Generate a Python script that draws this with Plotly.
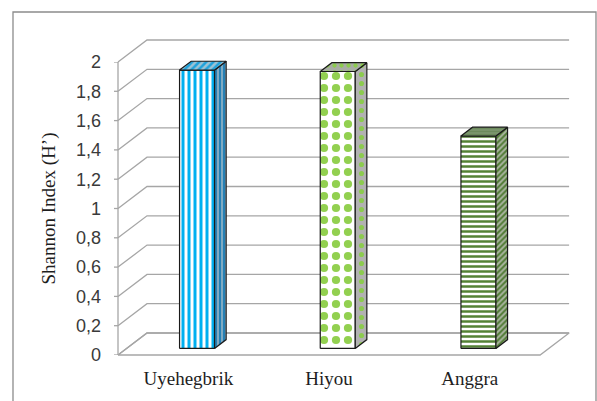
import plotly.graph_objects as go

# ---- data -------------------------------------------------------------
sites = ["Uyehegbrik", "Hiyou", "Anggra"]
shannon = [1.90, 1.89, 1.45]
y_ticks = [0, 0.2, 0.4, 0.6, 0.8, 1.0, 1.2, 1.4, 1.6, 1.8, 2.0]

# ---- page / projection geometry (pixels) ------------------------------
W, H = 597, 401
PLOT_L, PLOT_R, PLOT_T, PLOT_B = 114, 574, 34, 359
FRONT_X0, FRONT_Y0 = 118, 355          # pixel of (x=-0.5, y=0) on the front plane
CAT_PX = 140.7                          # pixels per category
UNIT_PX = 146.5                         # pixels per index unit
DEPTH_PX = (29, 22)                     # oblique offset of the back wall

DX = DEPTH_PX[0] / CAT_PX
DY = DEPTH_PX[1] / UNIT_PX
F1, F2 = 0.30, 0.70                     # front / back depth of the bars
BAR_W = 35 / CAT_PX

x_range = [-0.5 - (FRONT_X0 - PLOT_L) / CAT_PX, -0.5 + (PLOT_R - FRONT_X0) / CAT_PX]
y_range = [-(PLOT_B - FRONT_Y0) / UNIT_PX, (FRONT_Y0 - PLOT_T) / UNIT_PX]
plot_h = PLOT_B - PLOT_T
plot_w = PLOT_R - PLOT_L
front_dom = [(PLOT_B - FRONT_Y0) / plot_h,
             (PLOT_B - (FRONT_Y0 - max(y_ticks) * UNIT_PX)) / plot_h]

GRID = "#A6A6A6"
EDGE = "#1A1A1A"

styles = {
    "Uyehegbrik": {
        "front": dict(shape="|", bgcolor="white", fgcolor="#00B0F0", size=6, solidity=0.5),
        "side": dict(shape="|", bgcolor="#7FAAC2", fgcolor="#2580B5", size=4, solidity=0.5),
        "top": dict(shape="/", bgcolor="#9CC3D5", fgcolor="#1FA2DB", size=5, solidity=0.5),
    },
    "Hiyou": {
        "front": dict(shape=".", bgcolor="white", fgcolor="#92D050", size=12, solidity=0.37),
        "side": dict(shape=".", bgcolor="#B2B2B2", fgcolor="#8CCB4E", size=9, solidity=0.25),
        "top": dict(shape=".", bgcolor="#A8ADA4", fgcolor="#8CCB4E", size=7, solidity=0.3),
    },
    "Anggra": {
        "front": dict(shape="-", bgcolor="white", fgcolor="#548235", size=5, solidity=0.5),
        "side": dict(shape="/", bgcolor="#AAB5A0", fgcolor="#4F7A33", size=4, solidity=0.5),
        "top": dict(shape="-", bgcolor="#7D9770", fgcolor="#6C8A5C", size=3, solidity=0.5),
    },
}

fig = go.Figure()


def line_trace(xs, ys, color=GRID, width=1.3, yaxis="y"):
    return go.Scatter(x=xs, y=ys, mode="lines", yaxis=yaxis,
                      line=dict(color=color, width=width),
                      hoverinfo="skip", showlegend=False)


# side-wall diagonals and back-wall gridlines
gx, gy = [], []
x_left, x_right = -0.5, len(sites) - 0.5
for v in y_ticks:
    gx += [x_left, x_left + DX, x_right + DX, None]
    gy += [v, v + DY, v + DY, None]
fig.add_trace(line_trace(gx, gy))

# floor outline
fig.add_trace(line_trace([x_left, x_right, x_right + DX, x_left + DX, x_left],
                         [0, 0, DY, DY, 0]))

# bars: front face, right side, top
for i, (name, v) in enumerate(zip(sites, shannon)):
    xl = i + F1 * DX - BAR_W / 2
    xr = xl + BAR_W
    y0 = F1 * DY
    bx = (F2 - F1) * DX
    by = (F2 - F1) * DY
    faces = {
        "front": ([xl, xr, xr, xl, xl], [y0, y0, v + y0, v + y0, y0]),
        "side": ([xr, xr + bx, xr + bx, xr, xr],
                 [y0, y0 + by, v + y0 + by, v + y0, y0]),
        "top": ([xl, xr, xr + bx, xl + bx, xl],
                [v + y0, v + y0, v + y0 + by, v + y0 + by, v + y0]),
    }
    for face, (fx, fy) in faces.items():
        pat = dict(styles[name][face], fillmode="replace")
        fig.add_trace(go.Scatter(
            x=fx, y=fy, mode="lines", fill="toself",
            fillcolor=pat["bgcolor"], fillpattern=pat,
            line=dict(color=EDGE, width=1.2),
            name=name, hoverinfo="skip", showlegend=False))

# front value axis with outward ticks (on the front-plane axis)
tick_len = 5 / CAT_PX
ax_x, ax_y = [x_left, x_left, None], [0, max(y_ticks), None]
for v in y_ticks:
    ax_x += [x_left - tick_len, x_left, None]
    ax_y += [v, v, None]
fig.add_trace(line_trace(ax_x, ax_y, yaxis="y2"))

fig.update_layout(
    width=W, height=H,
    margin=dict(l=PLOT_L, r=W - PLOT_R, t=PLOT_T, b=H - PLOT_B),
    paper_bgcolor="white", plot_bgcolor="rgba(0,0,0,0)",
    separators=",.",
    xaxis=dict(range=x_range, showgrid=False, zeroline=False, showline=False,
               tickvals=list(range(len(sites))), ticktext=sites, ticks="",
               tickfont=dict(family="Liberation Serif", size=19, color="#1E1E1E"),
               ticklabelstandoff=6, fixedrange=True),
    yaxis=dict(range=y_range, showgrid=False, zeroline=False, showline=False,
               showticklabels=False, ticks="", fixedrange=True),
    yaxis2=dict(domain=front_dom, range=[0, max(y_ticks)], anchor="x",
                showgrid=False, zeroline=False, showline=False,
                tickvals=y_ticks, ticks="",
                tickfont=dict(family="Liberation Sans", size=18, color="#3A3A3A"),
                ticklabelstandoff=12,
                title=dict(text="Shannon Index (H’)", standoff=15,
                           font=dict(family="Liberation Serif", size=19, color="#1E1E1E")),
                fixedrange=True),
    shapes=[dict(type="rect", xref="paper", yref="paper",
                 x0=(13 - PLOT_L) / plot_w, x1=(596 - PLOT_L) / plot_w,
                 y0=(PLOT_B - 420) / plot_h, y1=(PLOT_B - 12) / plot_h,
                 line=dict(color="#8C8C8C", width=1.3), layer="below")],
)

fig.write_html("out.html", config={"displayModeBar": False})
